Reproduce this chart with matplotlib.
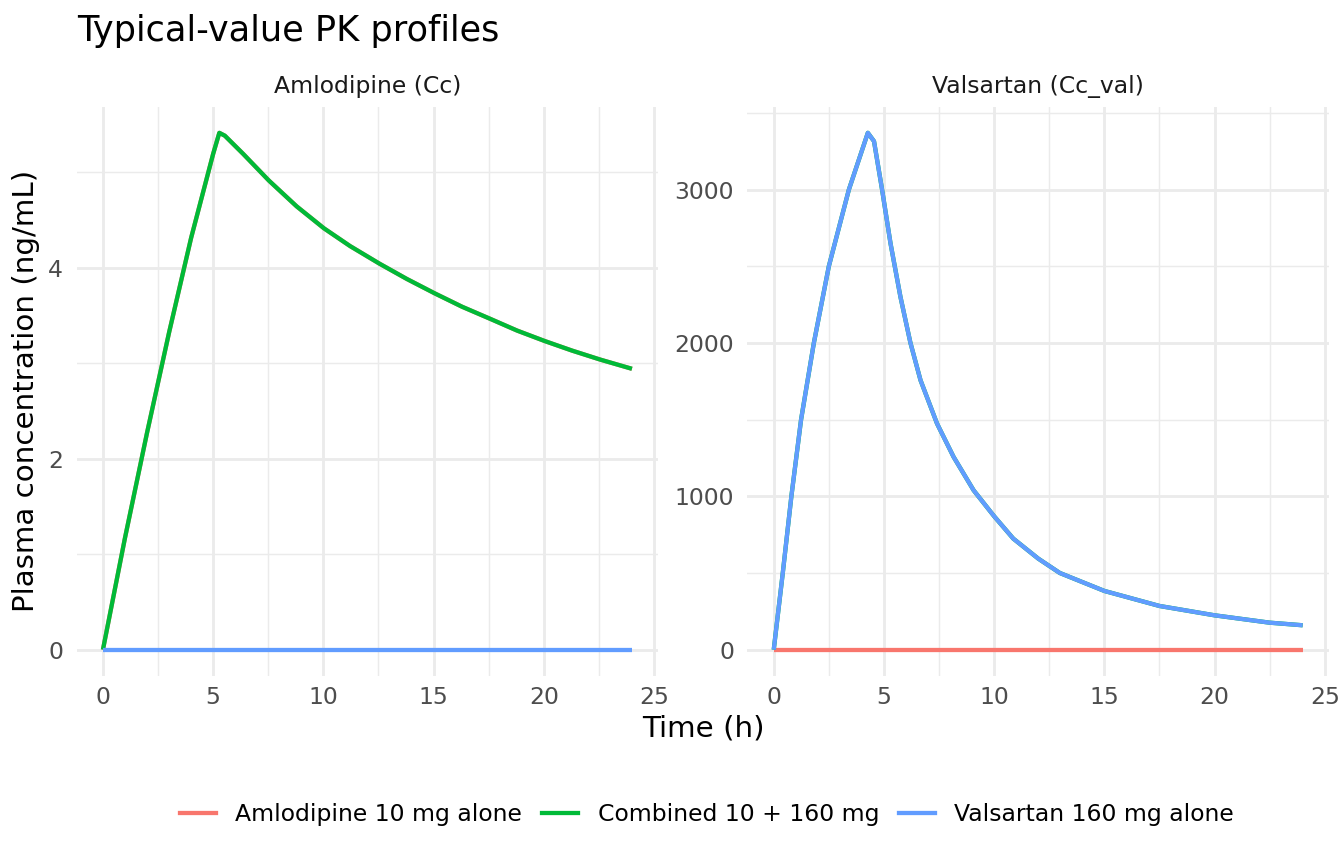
import numpy as np
import matplotlib
matplotlib.use("Agg")
import matplotlib.pyplot as plt
from matplotlib.lines import Line2D

plt.rcParams['font.family'] = ['DejaVu Sans']

# typical-value profiles
t_amlo = [0, 1, 2, 3, 4, 5, 5.28, 5.53, 6.36, 7.53, 8.79,
          10.03, 11.21, 12.55, 13.79, 15.05, 16.29, 17.55, 18.79, 20.05,
          21.29, 22.58, 24.0]
c_amlo = [0, 1.17, 2.27, 3.32, 4.31, 5.19, 5.41, 5.38, 5.19, 4.91, 4.64,
          4.41, 4.225, 4.04, 3.88, 3.73, 3.59, 3.465, 3.34, 3.23,
          3.13, 3.035, 2.94]

t_val = [0, 0.41, 0.80, 1.24, 1.82, 2.5, 3.41, 4.27, 4.55, 4.92, 5.30, 5.75,
         6.20, 6.66, 7.41, 8.16, 9.07, 10.0, 10.87, 12.0, 12.98, 15.0, 17.5,
         20.0, 22.5, 24.0]
c_val = [0, 500, 1000, 1500, 2000, 2500, 3000, 3370, 3315, 2996, 2648, 2300,
         2002, 1757, 1474, 1257, 1039, 870, 724, 594, 500, 383, 285,
         224, 176, 159]

t_zero = [0, 24]
c_zero = [0, 0]

groups = ["Amlodipine 10 mg alone", "Combined 10 + 160 mg", "Valsartan 160 mg alone"]
cols = ["#F8766D", "#00BA38", "#619CFF"]
panels = ["Amlodipine (Cc)", "Valsartan (Cc_val)"]

# per panel: (time, conc) for each group in draw order
series = [
    [(t_amlo, c_amlo), (t_amlo, c_amlo), (t_zero, c_zero)],
    [(t_zero, c_zero), (t_val, c_val), (t_val, c_val)],
]
yticks = [[0, 2, 4], [0, 1000, 2000, 3000]]
yminor = [[1, 3, 5], [500, 1500, 2500, 3500]]

W, H = 1344, 864
fig = plt.figure(figsize=(7, 4.5), dpi=192)

bot, top = 675.5, 107
boxes = [(76.5, 658.4), (747.3, 1329.1)]
lw = 1.6
for k, (x0, x1) in enumerate(boxes):
    ax = fig.add_axes([x0 / W, 1 - bot / H, (x1 - x0) / W, (bot - top) / H])
    for g in range(3):
        tt, cc = series[k][g]
        ax.plot(tt, cc, color=cols[g], lw=lw, solid_capstyle='butt',
                solid_joinstyle='round')
    ax.margins(0.05)
    ax.set_xticks([0, 5, 10, 15, 20, 25])
    ax.set_xticks([2.5, 7.5, 12.5, 17.5, 22.5], minor=True)
    ax.set_yticks(yticks[k])
    ax.set_yticks(yminor[k], minor=True)
    ax.grid(which='major', color='#EBEBEB', lw=1.07)
    ax.grid(which='minor', color='#EBEBEB', lw=0.53)
    ax.set_axisbelow(True)
    for s in ax.spines.values():
        s.set_visible(False)
    ax.tick_params(which='both', length=0, labelsize=8.8, labelcolor='#4D4D4D')
    ax.tick_params(axis='x', pad=4)
    ax.tick_params(axis='y', pad=5)
    fig.text((x0 + x1) / 2 / W, 1 - 86 / H, panels[k], ha='center', va='center',
             fontsize=8.8, color='#1A1A1A')

fig.text(77 / W, 1 - 31 / H, "Typical-value PK profiles", ha='left', va='center',
         fontsize=13.2, color='black')
fig.text(703 / W, 1 - 728 / H, "Time (h)", ha='center', va='center', fontsize=11)
fig.text(26 / W, 1 - 391 / H, "Plasma concentration (ng/mL)", ha='center',
         va='center', rotation=90, fontsize=11)

handles = [Line2D([], [], color=c, lw=lw) for c in cols]
fig.legend(handles, groups, loc='center', bbox_to_anchor=(707 / W, 1 - 815 / H),
           ncol=3, frameon=False, fontsize=8.8, handlelength=1.53,
           handletextpad=0.83, columnspacing=0.85)

fig.savefig("out.png", dpi=192)
